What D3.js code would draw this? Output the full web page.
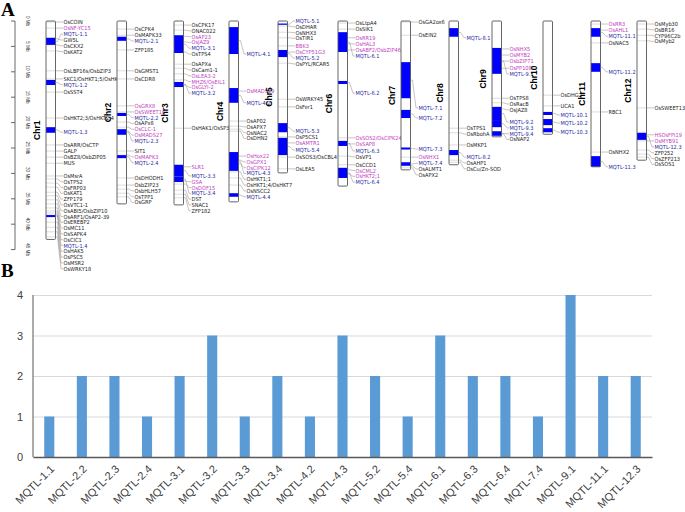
<!DOCTYPE html>
<html><head><meta charset="utf-8">
<script src="https://cdn.jsdelivr.net/npm/d3@7"></script>
<style>body{margin:0;background:#fff;} svg{display:block;}</style>
</head><body>
<svg id="c" width="685" height="512"></svg>
<script>
// ---------------- DATA ----------------
const chromosomes = ["Chr1","Chr2","Chr3","Chr4","Chr5","Chr6","Chr7","Chr8","Chr9","Chr10","Chr11","Chr12"];
const chrLengthsMb = [43.0, 36.0, 36.2, 35.6, 29.9, 32.5, 29.3, 28.3, 22.8, 22.3, 28.7, 27.4];
const rulerTicksMb = [0,5,10,15,20,25,30,35,40,45];

// [chromosome, MQTL, start Mb, end Mb, peak Mb]
const mqtlRows = [
  ["Chr1","MQTL-1.1",3.3,4.7,2.6],["Chr1","MQTL-1.2",11.6,12.6,12.4],["Chr1","MQTL-1.3",20.9,22.0,21.9],["Chr1","MQTL-1.4",38.2,38.6,38.4],
  ["Chr2","MQTL-2.1",3.1,3.9,3.9],["Chr2","MQTL-2.2",18.1,18.7,18.9],["Chr2","MQTL-2.3",21.3,22.4,22.2],["Chr2","MQTL-2.4",26.4,27.0,27.0],
  ["Chr3","MQTL-3.1",2.8,6.3,5.1],["Chr3","MQTL-3.2",12.0,13.0,13.2],["Chr3","MQTL-3.3",28.3,30.6,30.5],["Chr3","MQTL-3.4",30.6,31.7,32.5],
  ["Chr4","MQTL-4.1",1.2,6.5,6.5],["Chr4","MQTL-4.2",13.2,16.1,16.1],["Chr4","MQTL-4.3",25.8,29.5,28.9],["Chr4","MQTL-4.4",33.9,34.6,34.1],
  ["Chr5","MQTL-5.1",0.5,0.75,0.0],["Chr5","MQTL-5.2",5.7,7.1,7.3],["Chr5","MQTL-5.3",20.1,21.9,21.7],["Chr5","MQTL-5.4",23.0,26.4,25.4],
  ["Chr6","MQTL-6.1",2.2,6.1,6.9],["Chr6","MQTL-6.2",11.8,12.4,14.2],["Chr6","MQTL-6.3",23.6,24.6,25.6],["Chr6","MQTL-6.4",28.9,30.9,30.9],
  ["Chr7","MQTL-7.1",8.1,15.2,17.1],["Chr7","MQTL-7.2",17.5,19.1,19.1],["Chr7","MQTL-7.3",24.9,25.3,25.2],["Chr7","MQTL-7.4",27.8,28.5,28.0],
  ["Chr8","MQTL-8.1",1.4,3.1,3.3],["Chr8","MQTL-8.2",25.4,26.4,26.8],
  ["Chr9","MQTL-9.1",5.3,10.4,10.4],["Chr9","MQTL-9.2",16.9,19.5,19.9],["Chr9","MQTL-9.3",19.5,20.9,20.7],["Chr9","MQTL-9.4",21.7,22.6,21.5],
  ["Chr10","MQTL-10.1",17.9,18.5,18.5],["Chr10","MQTL-10.2",19.3,20.5,20.1],["Chr10","MQTL-10.3",21.1,21.9,21.9],
  ["Chr11","MQTL-11.1",1.4,3.1,3.0],["Chr11","MQTL-11.2",8.3,10.0,10.0],["Chr11","MQTL-11.3",26.6,28.7,28.7],
  ["Chr12","MQTL-12.3",22.0,23.4,24.8]
];

// [chromosome, gene, position Mb, salt-responsive (1) or other (0)]
const geneRows = [
  ["Chr1","OsCOIN",0.2,0],["Chr1","OsNF-YC15",1.4,1],["Chr1","GW5L",3.5,0],["Chr1","OsCKX2",4.7,0],["Chr1","OsKAT2",5.9,0],
  ["Chr1","OsLBP16s/OsbZIP3",9.8,0],["Chr1","SKC1/OsHKT1;5/OsHKT8",11.4,0],["Chr1","OsSST4",14.0,0],["Chr1","OsHKT2;3/OsHKT2;4",19.1,0],
  ["Chr1","OsARR/OsCTP",24.4,0],["Chr1","GALP",25.6,0],["Chr1","OsBZ8/OsbZIP05",26.8,0],["Chr1","MUS",28.0,0],
  ["Chr1","OsMsrA",30.5,0],["Chr1","OsTPS2",31.1,0],["Chr1","OsFRP03",31.9,0],["Chr1","OsKAT1",32.7,0],["Chr1","ZFP179",33.7,0],
  ["Chr1","OsVTC1-1",34.4,0],["Chr1","OsABI5/OsbZIP10",35.2,0],["Chr1","OsARF1/OsAP2-39",36.0,0],["Chr1","OsEREBP2",36.8,0],
  ["Chr1","OsMC11",37.4,0],["Chr1","OsSAPK4",37.8,0],["Chr1","OsCIC1",38.2,0],["Chr1","OsHAK5",39.6,0],["Chr1","OsPSC5",40.6,0],
  ["Chr1","OsMSR2",41.5,0],["Chr1","OsWRKY18",42.5,0],
  ["Chr2","OsCPK4",1.6,0],["Chr2","OsMAPK33",2.8,0],["Chr2","ZFP185",5.7,0],["Chr2","OsGMST1",9.8,0],["Chr2","OsCDR8",11.4,0],
  ["Chr2","OsGRX8",16.7,1],["Chr2","OsSWEET16",17.9,1],["Chr2","OsAPx8",19.9,0],["Chr2","OsCLC-1",20.9,1],["Chr2","OsMADS27",21.7,1],
  ["Chr2","SIT1",25.6,0],["Chr2","OsMAPK3",26.4,1],["Chr2","OsDHODH1",30.9,0],["Chr2","OsbZIP23",32.3,0],["Chr2","OsbHLH57",33.1,0],
  ["Chr2","OsTPP1",33.9,0],["Chr2","OsGRP",34.6,0],
  ["Chr3","OsCPK17",0.8,0],["Chr3","ONAC022",1.8,0],["Chr3","OsAP23",3.0,1],["Chr3","OsJAZ9",4.1,1],["Chr3","OsTPS4",6.1,0],
  ["Chr3","OsAPXa",8.5,0],["Chr3","OsCam1-1",9.3,0],["Chr3","OsLEA3-2",10.4,1],["Chr3","MHZ6/OsEIL1",11.6,1],["Chr3","OsGLYI-2",12.6,1],
  ["Chr3","OsHAK1/OsSP3",21.1,0],["Chr3","SLR1",28.7,1],["Chr3","GSA",31.5,1],["Chr3","OsDOF15",32.1,1],["Chr3","DST",33.3,0],
  ["Chr3","SNAC1",34.1,0],["Chr3","ZFP182",34.8,0],
  ["Chr4","OsMADS29",13.8,1],["Chr4","OsAP02",19.7,0],["Chr4","OsAPX7",20.7,0],["Chr4","OsNAC2",21.3,0],["Chr4","OsDHN2",21.7,0],
  ["Chr4","OsHox22",26.6,1],["Chr4","OsGPX1",27.4,1],["Chr4","OsCIPK12",28.1,1],["Chr4","OsHKT1;1",29.7,0],
  ["Chr4","OsHKT1;4/OsHKT7",30.9,0],["Chr4","OsNSCC2",32.3,0],
  ["Chr5","OsDHAR",1.0,0],["Chr5","OsNHX3",2.2,0],["Chr5","OsTIR1",3.3,0],["Chr5","BBK3",4.9,1],["Chr5","OsCYP51G3",6.1,1],
  ["Chr5","OsPYL/RCAR5",8.3,0],["Chr5","OsWRKY45",15.4,0],["Chr5","OsFer1",16.9,0],["Chr5","OsP5CS1",22.8,0],["Chr5","OsAMTR1",24.0,1],
  ["Chr5","OsSOS3/OsCBL4",26.8,0],["Chr5","OsLEA5",29.1,0],
  ["Chr6","OsLtpA4",0.4,0],["Chr6","OsSIK1",1.6,0],["Chr6","OsRR19",3.3,1],["Chr6","OsHAL3",4.5,1],["Chr6","OsABF2/OsbZIP46",5.7,1],
  ["Chr6","OsSOS2/OsCIPK24",23.0,1],["Chr6","OsSAP8",24.2,1],["Chr6","OsVP1",26.6,0],["Chr6","OsCCD1",28.3,0],["Chr6","OsCML2",29.3,1],
  ["Chr6","OsHKT2;1",30.1,1],
  ["Chr7","OsGA2ox6",0.2,0],["Chr7","OsEIN2",2.8,0],["Chr7","OsNHX1",26.8,1],["Chr7","OsALMT1",28.5,0],["Chr7","OsAPX2",28.9,0],
  ["Chr8","OsTPS1",21.1,0],["Chr8","OsRbohA",22.0,0],["Chr8","OsMKP1",24.4,0],["Chr8","OsAHP1",27.4,0],["Chr8","OsCu/Zn-SOD",27.8,0],
  ["Chr9","OsNHX5",5.5,1],["Chr9","OsMYB2",6.7,1],["Chr9","OsbZIP71",7.9,1],["Chr9","OsPP108",9.3,1],["Chr9","OsTPS8",15.2,0],
  ["Chr9","OsRacB",16.1,0],["Chr9","OsJAZ8",17.3,0],["Chr9","OsNAP2",22.2,0],
  ["Chr10","OsDHG2",14.6,0],["Chr10","UCA1",16.7,0],
  ["Chr11","OsRR3",0.6,1],["Chr11","OsAHL1",1.8,1],["Chr11","OsNAC5",4.3,0],["Chr11","RBC1",17.9,0],["Chr11","OsNHX2",25.8,0],
  ["Chr12","OsMyb30",0.6,0],["Chr12","OsBR16",1.6,0],["Chr12","CYP96C2b",2.8,0],["Chr12","OsMyb2",3.9,0],["Chr12","OsSWEET13",17.1,0],
  ["Chr12","HSOsFPI19",22.4,1],["Chr12","OsMYB91",23.6,1],["Chr12","ZFP252",25.4,0],["Chr12","OsZFP213",26.2,0],["Chr12","OsSOS1",26.8,0]
];

// Panel B
const barCategories = ["MQTL-1.1","MQTL-2.2","MQTL-2.3","MQTL-2.4","MQTL-3.1","MQTL-3.2","MQTL-3.3","MQTL-3.4","MQTL-4.2","MQTL-4.3",
  "MQTL-5.2","MQTL-5.4","MQTL-6.1","MQTL-6.3","MQTL-6.4","MQTL-7.4","MQTL-9.1","MQTL-11.1","MQTL-12.3"];
const barValues = [1,2,2,1,2,3,1,2,1,3,2,1,3,2,2,1,4,2,2];
const barTicks = [0,1,2,3,4];

// ---------------- DRAWING ----------------
const svg = d3.select("#c");
const FONT = "'Liberation Sans', Arial, sans-serif";
const NARROW = "'Liberation Sans Narrow', 'DejaVu Sans Condensed', 'Arial Narrow', sans-serif";

// panel letters
svg.append("text").attr("x",1).attr("y",16).text("A")
  .attr("font-family","'Liberation Serif','Times New Roman',serif").attr("font-weight","bold").attr("font-size",19);
svg.append("text").attr("x",1).attr("y",277).text("B")
  .attr("font-family","'Liberation Serif','Times New Roman',serif").attr("font-weight","bold").attr("font-size",19);

// Panel A
const yMb = d3.scaleLinear().domain([0,45]).range([21, 249.6]);

// ruler
const ruler = svg.append("g");
ruler.append("line").attr("x1",15).attr("x2",15).attr("y1",yMb(0)).attr("y2",yMb(45)).attr("stroke","#444").attr("stroke-width",0.8);
ruler.selectAll("line.tk").data(rulerTicksMb).join("line").attr("class","tk")
  .attr("x1",11).attr("x2",15).attr("y1",d=>yMb(d)).attr("y2",d=>yMb(d)).attr("stroke","#444").attr("stroke-width",0.8);
ruler.selectAll("text").data(rulerTicksMb).join("text")
  .attr("transform",d=>`translate(26,${yMb(d)}) rotate(90)`)
  .attr("text-anchor","middle").attr("font-family",FONT).attr("font-size",4.6).attr("fill","#333")
  .text(d=>d+" Mb");

const chrLeft = [46,117,174,229,278,338,401,449,492,543,591,637];
const chrW = 9.5, labelGap = 5.8;
const colBlack = "#1a1a1a", colSalt = "#c03cc0", colMqtl = "#26269e", colBlock = "#0000ff";

chromosomes.forEach((c,i)=>{
  const x0 = chrLeft[i], x1 = x0 + chrW, lx = x1 + 8;
  const len = chrLengthsMb[i];
  const g = svg.append("g");
  g.append("rect").attr("x",x0).attr("y",yMb(0)).attr("width",chrW).attr("height",yMb(len)-yMb(0)).attr("fill","#fff");
  const genes = geneRows.filter(r=>r[0]===c).map(r=>({name:r[1],pos:r[2],salt:r[3],type:"gene"}));
  const qs = mqtlRows.filter(r=>r[0]===c).map(r=>({name:r[1],start:r[2],end:r[3],pos:r[4],type:"mqtl"}));
  g.selectAll("line.gl").data(genes).join("line").attr("class","gl")
    .attr("x1",x0).attr("x2",x1).attr("y1",d=>yMb(d.pos)).attr("y2",d=>yMb(d.pos))
    .attr("stroke","#c4c4c4").attr("stroke-width",0.6);
  g.selectAll("rect.blk").data(qs).join("rect").attr("class","blk")
    .attr("x",x0).attr("width",chrW).attr("y",d=>yMb(d.start)).attr("height",d=>Math.max(0.8,yMb(d.end)-yMb(d.start)))
    .attr("fill",colBlock);
  g.append("rect").attr("x",x0).attr("y",yMb(0)).attr("width",chrW).attr("height",yMb(len)-yMb(0))
    .attr("fill","none").attr("stroke","#555").attr("stroke-width",0.9).attr("rx",1);
  // chromosome name
  g.append("text").attr("transform",`translate(${x0-6},${(yMb(0)+yMb(len))/2}) rotate(-90)`)
    .attr("text-anchor","middle").attr("font-family",FONT).attr("font-weight","bold").attr("font-size",8.5).text(c);
  // label layout (push-down)
  const items = genes.concat(qs).sort((a,b)=>a.pos-b.pos);
  let prev = -Infinity;
  items.forEach(d=>{
    d.ly = Math.max(yMb(d.pos), prev + labelGap); prev = d.ly;
    d.ay = d.type==="mqtl" ? yMb((d.start+d.end)/2) : yMb(d.pos);
  });
  g.selectAll("path.cn").data(items).join("path").attr("class","cn")
    .attr("d",d=>`M${x1},${d.ay}H${x1+2}L${lx-2.5},${d.ly}H${lx-0.5}`)
    .attr("fill","none").attr("stroke","#8a8a8a").attr("stroke-width",0.5);
  g.selectAll("text.lb").data(items).join("text").attr("class","lb")
    .attr("x",lx).attr("y",d=>d.ly).attr("dy","0.35em")
    .attr("font-family",NARROW).attr("font-size",5.6)
    .attr("fill",d=>d.type==="mqtl"?colMqtl:(d.salt?colSalt:colBlack))
    .text(d=>d.name);
});

// Panel B
const x = d3.scaleBand().domain(barCategories).range([33,652]).paddingInner(0.69).paddingOuter(0.345);
const y = d3.scaleLinear().domain([0,4]).range([457,295]);

const grid = svg.append("g").attr("transform","translate(33,0)")
  .call(d3.axisLeft(y).tickValues(barTicks).tickSize(-619).tickFormat(d3.format("d")).tickPadding(10));
grid.select(".domain").remove();
grid.selectAll(".tick line").attr("stroke","#d9d9d9").attr("stroke-width",1);
grid.selectAll(".tick text").attr("font-family",FONT).attr("font-size",11).attr("fill","#404040");

svg.append("g").selectAll("rect").data(barValues).join("rect")
  .attr("x",(d,i)=>x(barCategories[i])).attr("width",x.bandwidth())
  .attr("y",d=>y(d)).attr("height",d=>y(0)-y(d)).attr("fill","#5b9bd5");

svg.append("line").attr("x1",33).attr("x2",33).attr("y1",y(4)).attr("y2",y(0)).attr("stroke","#595959").attr("stroke-width",1);

const xa = svg.append("g").attr("transform",`translate(0,${y(0)})`).call(d3.axisBottom(x).tickSize(0));
xa.select(".domain").attr("stroke","#595959").attr("stroke-width",1.6);
xa.selectAll(".tick text").attr("font-family",FONT).attr("font-size",11).attr("fill","#404040")
  .attr("text-anchor","end").attr("x",0).attr("y",0).attr("dy","0.35em")
  .attr("transform","translate(3,10) rotate(-45)");
</script>
</body></html>
